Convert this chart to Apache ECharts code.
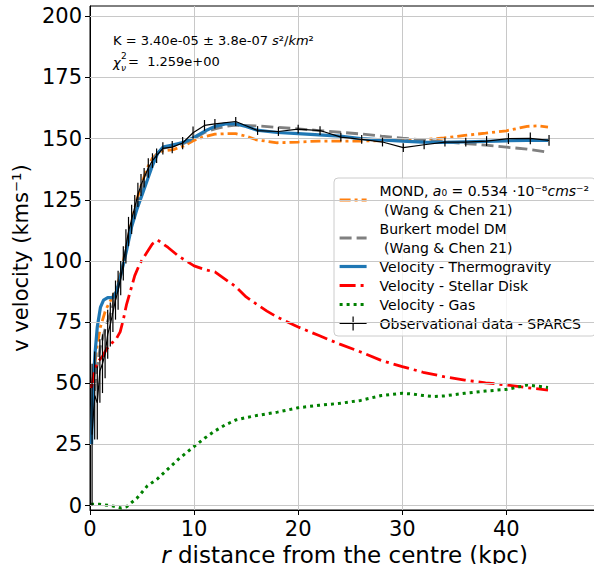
<!DOCTYPE html>
<html>
<head>
<meta charset="utf-8">
<script src="https://cdn.jsdelivr.net/npm/echarts@6/dist/echarts.min.js"></script>
<style>
html,body{margin:0;padding:0;background:#fff;}
#chart{width:594px;height:564px;}
</style>
</head>
<body>
<div id="chart"></div>
<script>
// ---------- data ----------
const xTicks = [0, 10, 20, 30, 40];
const yTicks = [0, 25, 50, 75, 100, 125, 150, 175, 200];

// Observational data - SPARCS
const obsR = [0.2, 0.45, 0.7, 0.95, 1.2, 1.45, 1.7, 1.95, 2.2, 2.45, 2.7, 2.95, 3.2, 3.45, 3.7, 4.0, 4.3, 4.6, 4.9, 5.2, 5.6, 6.0, 6.4, 7.0, 7.9, 8.9, 9.9, 11.0, 12.0, 14.0, 16.1, 18.1, 20.0, 22.1, 24.1, 26.1, 28.1, 30.1, 32.1, 34.1, 36.1, 38.1, 40.2, 42.3, 44.1];
const obsV = [29, 45, 42, 55, 58, 62, 70, 74, 79, 84, 88, 93, 99, 106, 112, 117, 122, 127, 131, 134, 138, 141, 143, 146, 146.5, 148.2, 152.4, 155.4, 156, 157, 153.3, 152.9, 153.9, 153.3, 150.6, 149.7, 148.6, 146.3, 147.5, 148.6, 148.6, 149, 150, 150.1, 149.3];
const obsErr = [29, 18, 15, 13, 12, 10, 10, 9, 8, 8, 8, 7, 7, 7, 6, 6, 5, 5, 4.5, 4, 4, 3, 3, 2.5, 2.5, 2.5, 2.5, 2.2, 2, 1.8, 1.8, 1.8, 1.8, 1.8, 1.8, 1.8, 1.8, 1.8, 1.8, 1.8, 1.8, 2, 2.2, 2.4, 2.2];

// Velocity - Thermogravity
const thermoR = [0.15, 0.3, 0.5, 0.7, 1.0, 1.3, 1.7, 2.2, 2.6, 3.0, 3.5, 4.0, 4.5, 5.0, 5.5, 6.0, 6.5, 7.0, 8, 9, 10, 11, 12, 13, 14, 15, 16, 18, 20, 22, 24, 26, 28, 30, 32, 34, 36, 38, 40, 42, 44];
const thermoV = [25, 50, 63, 73, 81, 84, 85, 85, 88, 95, 104, 114, 121, 127, 133, 139, 144, 146.5, 147.5, 148.5, 150.5, 153, 155, 156, 156, 155, 153.5, 152.5, 152, 151.5, 151, 150, 149.5, 149, 148.6, 148.5, 148.7, 148.9, 149.1, 149.3, 149.3];

// MOND (Wang & Chen 21)
const mondR = [0.3, 0.6, 1.0, 1.5, 2.0, 2.5, 3.0, 3.5, 4.0, 4.5, 5.0, 5.5, 6.0, 6.5, 7.0, 8.0, 9.0, 10, 11, 12, 13, 14, 15, 16, 18, 20, 22, 24, 26, 28, 30, 32, 34, 36, 38, 40, 42, 43, 44];
const mondV = [50, 63, 73, 80, 84, 88, 96, 106, 116, 125, 132, 138, 142, 144, 145, 145.5, 147, 149.3, 150.8, 151.8, 152, 152, 151, 149.5, 148.3, 148.6, 149, 149, 149, 149.2, 149.3, 149.5, 150.3, 151.3, 152.2, 153.2, 155, 155.2, 154.7];

// Burkert model DM (Wang & Chen 21)
const burkR = [0.3, 0.6, 1.0, 1.5, 2.0, 2.5, 3.0, 3.5, 4.0, 4.5, 5.0, 5.5, 6.0, 6.5, 7.0, 8, 9, 10, 11, 12, 13, 14, 16, 18, 20, 22, 24, 26, 28, 30, 32, 34, 36, 38, 40, 42, 44];
const burkV = [40, 55, 65, 73, 79, 86, 95, 105, 115, 123, 130, 136, 141, 144, 146, 147, 148, 150, 152.5, 154, 155, 155.5, 155.2, 154.6, 154, 153.3, 152.6, 151.9, 151, 150.2, 149.5, 148.7, 148, 147.3, 146.5, 145.7, 144.5];

// Velocity - Stellar Disk
const diskR = [0.15, 0.4, 0.8, 1.2, 1.6, 2.0, 2.5, 2.9, 3.2, 3.5, 3.9, 4.3, 4.8, 5.4, 6.0, 6.5, 7.0, 7.5, 8.5, 10, 11, 12, 13, 14, 15, 16, 17, 18, 20, 22, 24, 26, 28, 30, 32, 34, 36, 38, 40, 42, 44];
const diskV = [48, 55, 59, 61, 64, 66, 68, 71, 76, 82, 88, 94, 99, 103, 107, 108.5, 107, 105.5, 102, 98, 96.5, 95.5, 92.5, 89.5, 85.3, 82.3, 79.5, 77, 73, 69.5, 66, 62.8, 59.3, 56.8, 54.5, 52.7, 51.3, 50.2, 49.3, 48.2, 47.2];

// Velocity - Gas
const gasR = [0.1, 1, 2, 3, 3.5, 4.5, 5.5, 6.5, 7.5, 8.5, 9.9, 11, 12, 13, 14, 15, 16, 17, 18, 20, 22, 24, 26, 28, 30, 31, 32, 33, 34, 36, 38, 40, 41, 42, 43, 44];
const gasV = [0.5, 0.5, 0, -1, -0.5, 3, 8, 11, 15, 19, 23.8, 27.5, 30.5, 33, 35, 36, 36.8, 37.5, 38.2, 40, 41, 41.8, 43, 45, 45.9, 45.6, 45, 44.6, 44.8, 45.9, 46.8, 47.5, 48.3, 49.3, 48.8, 48.3];

// ---------- helpers ----------
const pairs = (xs, ys) => xs.map((x, i) => [x, ys[i]]);
const FONT = 'DejaVu Sans';

const C_MOND = '#ff7f0e', C_BURK = '#808080', C_THERMO = '#1f77b4', C_DISK = '#ff0000', C_GAS = '#008000';
const D_MOND = [10, 4, 3, 4], D_BURK = [12, 5], D_DISK = [16, 5, 3, 5], D_GAS = [3, 4];

const legendLabels = {
  'MOND': 'MOND, {i|a}₀ = 0.534 ·10⁻⁸{i|cms}⁻²\n (Wang & Chen 21)',
  'Burkert model DM': 'Burkert model DM\n (Wang & Chen 21)'
};

const legendLine = (name, color, width, type) => ({
  name: name,
  itemStyle: {opacity: 0},
  lineStyle: {color: color, width: width, type: type, opacity: 1}
});

// legend glyphs (icon shapes only)
const ICON_DASHDOT = 'path://M0,0L0.01,0Z M0,14L0.01,14Z M0,5.6h11v2.8h-11z M15,5.6h3v2.8h-3z M22,5.6h5v2.8h-5z';
const ICON_ERRBAR = 'path://M0,6.4h27v1.2h-27z M12.9,0h1.2v14h-1.2z';

const chart = echarts.init(document.getElementById('chart'), null, {renderer: 'svg'});

const option = {
  animation: false,
  backgroundColor: '#fff',
  grid: {
    left: 90, right: -5, top: 6, bottom: 54,
    outerBoundsMode: 'none', containLabel: false,
    show: true, borderColor: '#000', borderWidth: 1, backgroundColor: 'transparent'
  },
  xAxis: {
    type: 'value', min: 0, max: 48.9, interval: 10,
    name: '{i|r} distance from the centre (kpc)',
    nameLocation: 'middle', nameGap: 28,
    nameTextStyle: {
      fontSize: 23, color: '#000', fontFamily: FONT,
      rich: {i: {fontSize: 23, fontStyle: 'italic', fontFamily: FONT, color: '#000'}}
    },
    axisLine: {onZero: false, lineStyle: {color: '#000', width: 1}},
    axisTick: {length: 5, lineStyle: {color: '#000'}},
    axisLabel: {
      fontSize: 21, color: '#000', fontFamily: FONT, margin: 8,
      formatter: v => (xTicks.indexOf(v) >= 0 ? String(v) : '')
    },
    splitLine: {show: true, lineStyle: {color: '#c8c8c8', width: 1}}
  },
  yAxis: {
    type: 'value', min: -1.8, max: 204.2,
    name: 'v velocity (kms⁻¹)',
    nameLocation: 'middle', nameGap: 59, nameRotate: 90,
    nameTextStyle: {fontSize: 21, color: '#000', fontFamily: FONT},
    axisLine: {onZero: false, lineStyle: {color: '#000', width: 1}},
    axisTick: {length: 5, lineStyle: {color: '#000'}, customValues: yTicks},
    axisLabel: {fontSize: 21, color: '#000', fontFamily: FONT, margin: 8, customValues: yTicks},
    splitLine: {show: false}
  },
  legend: {
    orient: 'vertical', left: 334, top: 178,
    itemWidth: 27, itemHeight: 14, itemGap: 0,
    padding: [3, 6, 3, 4],
    backgroundColor: 'rgba(255,255,255,0.8)',
    borderColor: '#cccccc', borderWidth: 1, borderRadius: 4,
    textStyle: {
      fontSize: 14, color: '#000', fontFamily: FONT, lineHeight: 19, padding: [0, 0, 0, 8],
      rich: {i: {fontSize: 14, fontStyle: 'italic', fontFamily: FONT, color: '#000', lineHeight: 19}}
    },
    formatter: name => legendLabels[name] || name,
    data: [
      {name: 'MOND', icon: ICON_DASHDOT, itemStyle: {opacity: 1, color: C_MOND}},
      legendLine('Burkert model DM', C_BURK, 2.8, D_BURK),
      legendLine('Velocity - Thermogravity', C_THERMO, 3.2, 'solid'),
      legendLine('Velocity - Stellar Disk', C_DISK, 2.8, D_DISK),
      legendLine('Velocity - Gas', C_GAS, 3, D_GAS),
      {name: 'Observational data - SPARCS', icon: ICON_ERRBAR, itemStyle: {opacity: 1, color: '#000'}}
    ]
  },
  graphic: [
    {type: 'text', x: 113, y: 40, z: 10, style: {
      text: 'K = 3.40e-05 ± 3.8e-07 {i|s}²/{i|km}²',
      fill: '#000', font: '13px "DejaVu Sans"', verticalAlign: 'middle',
      rich: {i: {fontStyle: 'italic', fontSize: 13, fontFamily: FONT, fill: '#000'}}
    }},
    {type: 'text', x: 113, y: 62, z: 10, style: {text: 'χ', fill: '#000', font: 'italic 13px "DejaVu Sans"', verticalAlign: 'middle'}},
    {type: 'text', x: 121, y: 56, z: 10, style: {text: '2', fill: '#000', font: '9px "DejaVu Sans"', verticalAlign: 'middle'}},
    {type: 'text', x: 121, y: 68, z: 10, style: {text: 'ν', fill: '#000', font: 'italic 9px "DejaVu Sans"', verticalAlign: 'middle'}},
    {type: 'text', x: 128, y: 61, z: 10, style: {text: '=  1.259e+00', fill: '#000', font: '13px "DejaVu Sans"', verticalAlign: 'middle'}}
  ],
  series: [
    {
      name: 'ygrid', type: 'line', data: [], z: 1, silent: true,
      markLine: {
        silent: true, symbol: 'none', label: {show: false}, animation: false,
        lineStyle: {color: '#c8c8c8', width: 1, type: 'solid'},
        data: yTicks.map(v => ({yAxis: v}))
      }
    },
    {
      name: 'MOND', type: 'line', symbol: 'none', data: pairs(mondR, mondV), z: 3,
      lineStyle: {color: C_MOND, width: 2.8, type: D_MOND}, itemStyle: {color: C_MOND}
    },
    {
      name: 'Burkert model DM', type: 'line', symbol: 'none', data: pairs(burkR, burkV), z: 3,
      lineStyle: {color: C_BURK, width: 2.8, type: D_BURK}, itemStyle: {color: C_BURK}
    },
    {
      name: 'Velocity - Thermogravity', type: 'line', symbol: 'none', data: pairs(thermoR, thermoV), z: 4,
      lineStyle: {color: C_THERMO, width: 3.2}, itemStyle: {color: C_THERMO}
    },
    {
      name: 'Velocity - Stellar Disk', type: 'line', symbol: 'none', data: pairs(diskR, diskV), z: 4,
      lineStyle: {color: C_DISK, width: 2.8, type: D_DISK}, itemStyle: {color: C_DISK}
    },
    {
      name: 'Velocity - Gas', type: 'line', symbol: 'none', data: pairs(gasR, gasV), z: 4,
      lineStyle: {color: C_GAS, width: 3, type: D_GAS}, itemStyle: {color: C_GAS}
    },
    {
      name: 'Observational data - SPARCS', type: 'line', symbol: 'none', data: pairs(obsR, obsV), z: 5,
      lineStyle: {color: '#000', width: 1.2}, itemStyle: {color: '#000'}
    },
    {
      name: 'Observational data - SPARCS', type: 'custom', z: 5, clip: true,
      data: obsR.map((r, i) => [r, obsV[i] - obsErr[i], obsV[i] + obsErr[i]]),
      renderItem: (params, api) => {
        const p1 = api.coord([api.value(0), api.value(1)]);
        const p2 = api.coord([api.value(0), api.value(2)]);
        return {type: 'line', shape: {x1: p1[0], y1: p1[1], x2: p2[0], y2: p2[1]},
                style: {stroke: '#000', lineWidth: 1.2}};
      },
      itemStyle: {color: '#000'}
    }
  ]
};
chart.setOption(option);
</script>
</body>
</html>
